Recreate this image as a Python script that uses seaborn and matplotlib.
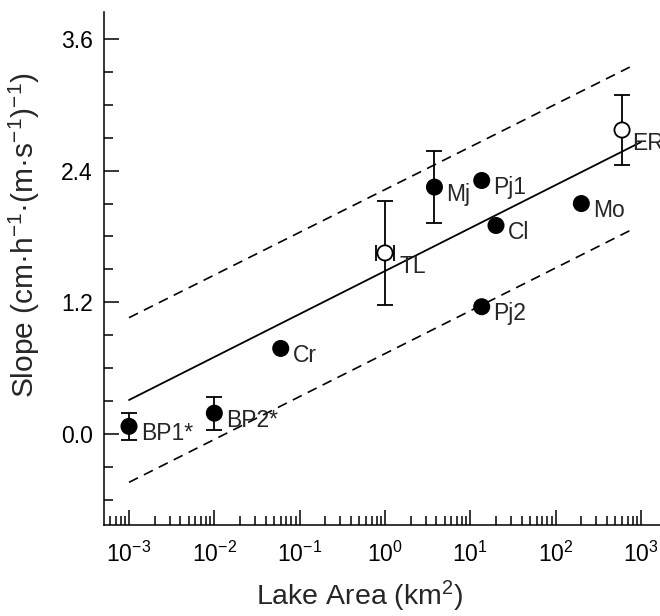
import numpy as np
import pandas as pd
import matplotlib
matplotlib.use("Agg")
import matplotlib.pyplot as plt
import matplotlib.ticker as mticker
import seaborn as sns

# lake data
lakes = ['BP1*', 'BP2*', 'Cr', 'TL', 'Mj', 'Pj1', 'Pj2', 'Cl', 'Mo', 'ER']
area = [1e-3, 1e-2, 0.06, 1.0, 3.8, 13.6, 13.6, 20.0, 200.0, 600.0]
slope = [0.07, 0.19, 0.78, 1.65, 2.25, 2.31, 1.16, 1.90, 2.10, 2.77]
kind = ['filled', 'filled', 'filled', 'open', 'filled', 'filled', 'filled',
        'filled', 'filled', 'open']
slope_err = [0.12, 0.15, np.nan, 0.475, 0.33, np.nan, np.nan, np.nan, np.nan, 0.315]

# horizontal error bar on TL only
tl_xerr_lo = 0.22
tl_xerr_hi = 0.27

# regression line and prediction bands (end points)
fit_x = [1e-3, 1e3]
fit_y = [0.31, 2.66]
band_x = [1e-3, 770.0]
upper_y = [1.06, 3.35]
lower_y = [-0.44, 1.86]

df = pd.DataFrame({'lake': lakes, 'area': area, 'slope': slope,
                   'kind': kind, 'err': slope_err})

sns.set_style('ticks')
plt.rcParams['font.family'] = ['Liberation Sans', 'DejaVu Sans']
plt.rcParams['mathtext.fontset'] = 'custom'
plt.rcParams['mathtext.rm'] = 'Liberation Sans'
plt.rcParams['mathtext.it'] = 'Liberation Sans:italic'
plt.rcParams['mathtext.bf'] = 'Liberation Sans:bold'

fig = plt.figure(figsize=(6.6, 6.16), dpi=100)
ax = fig.add_axes([104 / 660, 1 - 524.7 / 616, 556 / 660, (524.7 - 12) / 616])

sns.lineplot(x=fit_x, y=fit_y, color='black', linewidth=1.3, ax=ax)
sns.lineplot(x=band_x, y=upper_y, color='black', linewidth=1.2, ax=ax)
sns.lineplot(x=band_x, y=lower_y, color='black', linewidth=1.2, ax=ax)
ax.lines[1].set_linestyle((0, (6, 4)))
ax.lines[2].set_linestyle((0, (6, 4)))

eb = df.dropna(subset=['err'])
ax.errorbar(eb['area'], eb['slope'], yerr=eb['err'], fmt='none', ecolor='black',
            elinewidth=1.3, capsize=5.5, capthick=1.3, zorder=2)
tl = df[df['lake'] == 'TL']
ax.errorbar(tl['area'], tl['slope'], xerr=[[tl_xerr_lo], [tl_xerr_hi]], fmt='none',
            ecolor='black', elinewidth=1.3, capsize=5.5, capthick=1.3, zorder=2)

sns.scatterplot(data=df, x='area', y='slope', hue='kind',
                palette={'filled': 'black', 'open': 'white'},
                edgecolor='black', linewidth=1.3, s=120, legend=False,
                zorder=3, ax=ax)

offsets = {'TL': (10.5, -9.5), 'ER': (7, -10)}
for name, x, y in zip(lakes, area, slope):
    dx, dy = offsets.get(name, (8.5, -5))
    ax.annotate(name, (x, y), xytext=(dx, dy), textcoords='offset points',
                ha='left', va='center', fontsize=16.5, annotation_clip=False)

ax.set_xscale('log')
ax.set_xlim(10 ** -3.293, 10 ** 3.223)
ax.set_ylim(-0.826, 3.845)
ax.xaxis.set_major_locator(mticker.LogLocator(base=10, numticks=20))
ax.xaxis.set_minor_locator(mticker.LogLocator(base=10, subs=np.arange(2, 10), numticks=20))
ax.xaxis.set_minor_formatter(mticker.NullFormatter())
ax.yaxis.set_major_locator(mticker.MultipleLocator(1.2))
ax.yaxis.set_minor_locator(mticker.MultipleLocator(0.3))
ax.yaxis.set_major_formatter(mticker.FormatStrFormatter('%.1f'))

ax.tick_params(which='both', direction='in', width=1.1, colors='black', labelsize=16.5)
ax.tick_params(which='major', length=11)
ax.tick_params(axis='y', which='major', pad=8)
ax.tick_params(axis='x', which='major', pad=12)
ax.tick_params(which='minor', length=6.5)

for side in ['top', 'right']:
    ax.spines[side].set_visible(False)
for side in ['left', 'bottom']:
    ax.spines[side].set_linewidth(1.1)
    ax.spines[side].set_color('black')

ax.set_xlabel('Lake Area (km$^2$)', fontsize=20.5)
ax.set_ylabel('Slope (cm·h$^{-1}$·(m·s$^{-1}$)$^{-1}$)', fontsize=21.5)
ax.xaxis.set_label_coords(0.46, -0.105)
ax.yaxis.set_label_coords(-0.112, 0.565)

fig.savefig('out.png', dpi=100)
